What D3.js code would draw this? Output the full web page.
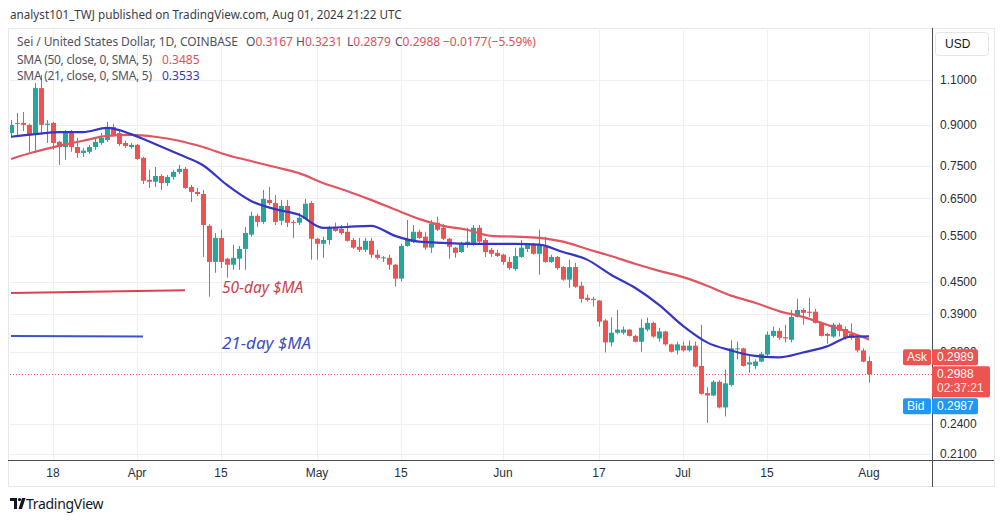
<!DOCTYPE html>
<html><head><meta charset="utf-8">
<script src="https://cdn.jsdelivr.net/npm/d3@7"></script>
<style>
body{margin:0;background:#fff;}
svg{display:block;font-family:"Noto Sans","Liberation Sans",Arial,sans-serif;}
</style>
</head><body>
<svg id="c" width="1003" height="522"></svg>
<script>
// ---------- data ----------
const firstDate = "2024-03-11";
const opens = [0.868,0.905,0.908,0.900,0.868,1.059,0.900,0.908,0.835,0.816,0.868,0.816,0.795,0.799,0.816,0.831,0.842,0.892,0.868,0.831,0.816,0.824,0.778,0.706,0.700,0.718,0.696,0.715,0.731,0.741,0.684,0.669,0.663,0.576,0.491,0.546,0.498,0.485,0.498,0.520,0.554,0.602,0.586,0.646,0.637,0.589,0.629,0.586,0.584,0.594,0.637,0.544,0.532,0.541,0.571,0.568,0.561,0.541,0.525,0.518,0.539,0.507,0.499,0.500,0.485,0.456,0.527,0.537,0.561,0.549,0.523,0.584,0.571,0.544,0.523,0.513,0.530,0.534,0.571,0.541,0.518,0.511,0.507,0.491,0.476,0.502,0.520,0.530,0.509,0.525,0.491,0.502,0.480,0.454,0.480,0.442,0.419,0.417,0.414,0.379,0.344,0.359,0.359,0.364,0.354,0.345,0.364,0.375,0.350,0.361,0.341,0.332,0.339,0.332,0.339,0.310,0.275,0.272,0.289,0.258,0.285,0.334,0.335,0.312,0.310,0.316,0.326,0.354,0.362,0.352,0.348,0.385,0.397,0.394,0.394,0.375,0.357,0.353,0.372,0.365,0.357,0.351,0.332,0.3167];
const highs = [0.920,0.949,0.953,0.905,1.083,1.122,0.920,0.912,0.839,0.880,0.880,0.850,0.813,0.824,0.850,0.868,0.912,0.904,0.876,0.839,0.831,0.827,0.781,0.738,0.747,0.724,0.721,0.738,0.754,0.747,0.690,0.681,0.675,0.580,0.558,0.566,0.500,0.530,0.527,0.573,0.613,0.607,0.675,0.684,0.660,0.646,0.646,0.591,0.610,0.649,0.643,0.546,0.549,0.576,0.584,0.578,0.584,0.546,0.546,0.546,0.546,0.518,0.504,0.507,0.487,0.532,0.591,0.578,0.566,0.561,0.591,0.600,0.581,0.546,0.525,0.537,0.571,0.578,0.578,0.546,0.523,0.518,0.509,0.502,0.523,0.541,0.534,0.534,0.566,0.549,0.507,0.504,0.482,0.496,0.489,0.450,0.425,0.421,0.415,0.381,0.384,0.397,0.369,0.365,0.356,0.381,0.384,0.377,0.367,0.362,0.342,0.345,0.345,0.347,0.345,0.372,0.282,0.291,0.291,0.305,0.347,0.345,0.336,0.324,0.319,0.330,0.361,0.369,0.367,0.372,0.397,0.417,0.400,0.419,0.399,0.377,0.359,0.375,0.375,0.369,0.374,0.353,0.335,0.3231];
const lows = [0.850,0.861,0.876,0.799,0.795,0.861,0.831,0.806,0.754,0.771,0.799,0.778,0.781,0.792,0.806,0.824,0.835,0.854,0.820,0.813,0.810,0.771,0.693,0.681,0.684,0.675,0.687,0.706,0.724,0.678,0.640,0.657,0.502,0.421,0.468,0.478,0.458,0.474,0.474,0.474,0.549,0.573,0.581,0.632,0.578,0.578,0.573,0.546,0.578,0.591,0.496,0.496,0.500,0.530,0.561,0.554,0.537,0.520,0.513,0.513,0.500,0.496,0.491,0.474,0.440,0.450,0.525,0.534,0.544,0.518,0.511,0.563,0.541,0.498,0.500,0.511,0.523,0.527,0.534,0.502,0.502,0.502,0.485,0.474,0.472,0.500,0.513,0.507,0.464,0.489,0.489,0.474,0.452,0.438,0.438,0.410,0.412,0.403,0.369,0.329,0.338,0.357,0.356,0.353,0.344,0.330,0.361,0.351,0.345,0.339,0.329,0.326,0.330,0.330,0.308,0.273,0.241,0.271,0.257,0.248,0.283,0.319,0.309,0.301,0.306,0.315,0.324,0.351,0.348,0.344,0.344,0.384,0.372,0.385,0.374,0.353,0.342,0.351,0.353,0.348,0.348,0.329,0.315,0.2879];
const closes = [0.900,0.908,0.900,0.861,1.059,0.900,0.905,0.831,0.816,0.868,0.816,0.795,0.803,0.816,0.835,0.850,0.888,0.861,0.827,0.820,0.824,0.774,0.703,0.700,0.718,0.696,0.715,0.731,0.741,0.681,0.669,0.663,0.578,0.491,0.546,0.491,0.485,0.500,0.520,0.558,0.602,0.586,0.649,0.637,0.586,0.629,0.584,0.584,0.597,0.635,0.544,0.532,0.541,0.571,0.563,0.558,0.539,0.523,0.518,0.539,0.507,0.500,0.501,0.485,0.456,0.527,0.541,0.561,0.546,0.523,0.581,0.566,0.544,0.525,0.511,0.532,0.537,0.571,0.537,0.513,0.509,0.504,0.491,0.478,0.504,0.523,0.530,0.509,0.530,0.491,0.502,0.478,0.454,0.480,0.440,0.417,0.415,0.415,0.377,0.344,0.359,0.364,0.364,0.354,0.345,0.367,0.375,0.353,0.361,0.341,0.330,0.341,0.332,0.339,0.309,0.274,0.272,0.289,0.258,0.287,0.335,0.335,0.310,0.315,0.316,0.327,0.356,0.362,0.351,0.350,0.385,0.397,0.392,0.392,0.375,0.354,0.354,0.372,0.362,0.351,0.351,0.332,0.316,0.2988];

// moving averages (day offset from firstDate, value)
const smaDays = [0,4,8,12,16,20,24,28,32,36,40,44,48,52,56,60,64,68,72,76,80,84,88,92,96,100,104,108,112,116,120,124,128,132,136,140,143];
const sma50 = [0.774,0.799,0.820,0.839,0.857,0.861,0.854,0.839,0.816,0.788,0.767,0.747,0.727,0.696,0.672,0.646,0.619,0.594,0.576,0.566,0.551,0.549,0.546,0.537,0.520,0.504,0.487,0.472,0.459,0.442,0.423,0.410,0.395,0.385,0.372,0.359,0.3485];
const sma21 = [0.854,0.864,0.872,0.872,0.888,0.864,0.827,0.790,0.753,0.690,0.643,0.620,0.605,0.571,0.573,0.576,0.551,0.537,0.534,0.532,0.532,0.532,0.530,0.513,0.496,0.464,0.438,0.406,0.370,0.344,0.332,0.324,0.322,0.329,0.338,0.353,0.3533];

const priceTicks = [1.1,0.9,0.75,0.65,0.55,0.45,0.39,0.33,0.24,0.21];
const timeTickDates = ["2024-03-18","2024-04-01","2024-04-15","2024-05-01","2024-05-15","2024-06-01","2024-06-17","2024-07-01","2024-07-15","2024-08-01"];
const timeTickLabels = ["18","Apr","15","May","15","Jun","17","Jul","15","Aug"];

// hand-drawn annotation lines: [startDate, endDate, startPrice, endPrice]
const note50 = ["2024-03-11","2024-04-09",0.428,0.433];
const note21 = ["2024-03-11","2024-04-02",0.354,0.353];

const askPrice = 0.2989, bidPrice = 0.2987, countdown = "02:37:21";
const changeAbs = "\u22120.0177", changePct = "(\u22125.59%)";

// ---------- layout ----------
const svg = d3.select("#c");
const plot = {l:10, r:932, t:30, b:460};
const parse = d3.utcParse("%Y-%m-%d");
const day0 = parse(firstDate);
const dates = closes.map((_,i)=>d3.utcDay.offset(day0,i));
const candles = dates.map((d,i)=>({d,o:opens[i],h:highs[i],l:lows[i],c:closes[i]}));

const x = d3.scaleUtc().domain([parse("2024-03-18"), parse("2024-08-01")]).range([53,869]);
const y = d3.scaleLog().domain([0.21,1.1]).range([454,79.5]);

const UP="#26a69a", DN="#ef5350";

// frame
svg.append("rect").attr("x",8.5).attr("y",28.5).attr("width",986).attr("height",458).attr("fill","none").attr("stroke","#e6e8ee");

// grid
const grid = svg.append("g");
grid.selectAll("line.h").data(priceTicks).join("line")
  .attr("x1",plot.l).attr("x2",plot.r).attr("y1",d=>Math.round(y(d))+0.5).attr("y2",d=>Math.round(y(d))+0.5)
  .attr("stroke","#eef0f5");
grid.selectAll("line.v").data(timeTickDates).join("line")
  .attr("x1",d=>Math.round(x(parse(d)))+0.5).attr("x2",d=>Math.round(x(parse(d)))+0.5)
  .attr("y1",plot.t).attr("y2",plot.b).attr("stroke","#eef0f5");

svg.append("clipPath").attr("id","pc").append("rect")
  .attr("x",plot.l).attr("y",plot.t).attr("width",plot.r-plot.l).attr("height",plot.b-plot.t);
const g = svg.append("g").attr("clip-path","url(#pc)");

// candles
const cg = g.append("g");
cg.selectAll("line").data(candles).join("line")
  .attr("x1",d=>Math.round(x(d.d))+0.5).attr("x2",d=>Math.round(x(d.d))+0.5)
  .attr("y1",d=>y(d.h)).attr("y2",d=>y(d.l))
  .attr("stroke",d=>d.c>=d.o?UP:DN).attr("stroke-width",1);
cg.selectAll("rect").data(candles).join("rect")
  .attr("x",d=>Math.round(x(d.d))-2).attr("width",5)
  .attr("y",d=>y(Math.max(d.o,d.c)))
  .attr("height",d=>Math.max(1,y(Math.min(d.o,d.c))-y(Math.max(d.o,d.c))))
  .attr("fill",d=>d.c>=d.o?UP:DN);

// SMA lines
const smaLine = d3.line().x(d=>x(d[0])).y(d=>y(d[1])).curve(d3.curveMonotoneX);
const s50 = smaDays.map((k,i)=>[d3.utcDay.offset(day0,k), sma50[i]]);
const s21 = smaDays.map((k,i)=>[d3.utcDay.offset(day0,k), sma21[i]]);
g.append("path").attr("d",smaLine(s50)).attr("fill","none").attr("stroke","#e15560").attr("stroke-width",2.2);
g.append("path").attr("d",smaLine(s21)).attr("fill","none").attr("stroke","#3535c8").attr("stroke-width",2.2);

// annotations
g.append("line").attr("x1",x(parse(note50[0]))).attr("x2",x(parse(note50[1])))
  .attr("y1",y(note50[2])).attr("y2",y(note50[3])).attr("stroke","#d9434f").attr("stroke-width",2);
g.append("line").attr("x1",x(parse(note21[0]))).attr("x2",x(parse(note21[1])))
  .attr("y1",y(note21[2])).attr("y2",y(note21[3])).attr("stroke","#3a55c8").attr("stroke-width",2);
svg.append("text").attr("x",222).attr("y",288).attr("dy","0.35em")
  .attr("font-style","italic").attr("font-size",15.5).attr("fill","#c9424f").text("50-day $MA");
svg.append("text").attr("x",222).attr("y",343).attr("dy","0.35em")
  .attr("font-style","italic").attr("font-size",17).attr("fill","#3b4fc2").text("21-day $MA");

// current price dotted line
const last = candles[candles.length-1];
svg.append("line").attr("x1",plot.l).attr("x2",plot.r).attr("y1",Math.round(y(last.c))+0.5).attr("y2",Math.round(y(last.c))+0.5)
  .attr("stroke",DN).attr("stroke-dasharray","1,2");

// axes lines
svg.append("line").attr("x1",plot.r+0.5).attr("x2",plot.r+0.5).attr("y1",28).attr("y2",487).attr("stroke","#4a4d57");
svg.append("line").attr("x1",8).attr("x2",994).attr("y1",plot.b+0.5).attr("y2",plot.b+0.5).attr("stroke","#4a4d57");

// price axis labels
const axisFont = "'Liberation Sans', Arial, sans-serif";
svg.append("g").selectAll("text").data(priceTicks).join("text")
  .attr("x",940).attr("y",d=>y(d)).attr("dy","0.35em")
  .attr("font-family",axisFont).attr("font-size",12).attr("fill","#2a2e39")
  .text(d=>d3.format(".4f")(d));

// time axis labels
svg.append("g").selectAll("text").data(timeTickDates).join("text")
  .attr("x",d=>x(parse(d))).attr("y",473).attr("dy","0.35em").attr("text-anchor","middle")
  .attr("font-family",axisFont).attr("font-size",12).attr("fill","#2a2e39")
  .text((d,i)=>timeTickLabels[i]);

// USD box
svg.append("rect").attr("x",935.5).attr("y",32.5).attr("width",53).attr("height",23).attr("rx",3)
  .attr("fill","#fff").attr("stroke","#e3e5ea");
svg.append("text").attr("x",945).attr("y",44).attr("dy","0.35em").attr("font-family",axisFont)
  .attr("font-size",12).attr("fill","#131722").text("USD");

// price labels on axis
const yc = y(last.c);
const fmt4 = d3.format(".4f");
function tag(xl, yt, w, h, fill){ svg.append("rect").attr("x",xl).attr("y",yt).attr("width",w).attr("height",h).attr("rx",2).attr("fill",fill); }
// Ask
tag(903, yc-25, 28, 16, DN);
svg.append("text").attr("x",907).attr("y",yc-17).attr("dy","0.35em").attr("font-family",axisFont).attr("font-size",12).attr("fill","#fff").text("Ask");
tag(932, yc-25, 46, 16, DN);
svg.append("text").attr("x",937).attr("y",yc-17).attr("dy","0.35em").attr("font-family",axisFont).attr("font-size",12).attr("fill","#fff").text(fmt4(askPrice));
// current
tag(932, yc-8, 58, 31, DN);
svg.append("text").attr("x",937).attr("y",yc).attr("dy","0.35em").attr("font-family",axisFont).attr("font-size",12).attr("fill","#fff").text(fmt4(last.c));
svg.append("text").attr("x",937).attr("y",yc+14).attr("dy","0.35em").attr("font-family",axisFont).attr("font-size",12).attr("fill","#fde8e8").text(countdown);
// Bid
tag(903, yc+24, 28, 16, "#2196f3");
svg.append("text").attr("x",907).attr("y",yc+32).attr("dy","0.35em").attr("font-family",axisFont).attr("font-size",12).attr("fill","#fff").text("Bid");
tag(932, yc+24, 46, 16, "#2196f3");
svg.append("text").attr("x",937).attr("y",yc+32).attr("dy","0.35em").attr("font-family",axisFont).attr("font-size",12).attr("fill","#fff").text(fmt4(bidPrice));

// header
svg.append("text").attr("x",10).attr("y",15).attr("dy","0.35em").attr("font-size",11.7).attr("fill","#3a3d45")
  .text("analyst101_TWJ published on TradingView.com, Aug 01, 2024 21:22 UTC");

// legend
const legRed = "#e0505b", legGray="#50535e";
const l1 = svg.append("text").attr("y",42).attr("dy","0.35em").attr("font-size",12).attr("fill",legGray);
l1.append("tspan").attr("x",17).attr("textLength",221).attr("lengthAdjust","spacing").text("Sei / United States Dollar, 1D, COINBASE");
const ohlcX = [246,296,347,395];
[["O",last.o],["H",last.h],["L",last.l],["C",last.c]].forEach(([k,v],i)=>{
  l1.append("tspan").attr("x",ohlcX[i]).attr("fill",legGray).text(k);
  l1.append("tspan").attr("fill",legRed).text(fmt4(v));
});
l1.append("tspan").attr("x",443).attr("fill",legRed).text(changeAbs);
l1.append("tspan").attr("x",488).attr("fill",legRed).text(changePct);

const l2 = svg.append("text").attr("y",60).attr("dy","0.35em").attr("font-size",12).attr("fill",legGray);
l2.append("tspan").attr("x",17).attr("textLength",135).attr("lengthAdjust","spacing").text("SMA (50, close, 0, SMA, 5)");
l2.append("tspan").attr("x",162).attr("fill",legRed).text(fmt4(sma50[sma50.length-1]));
const l3 = svg.append("text").attr("y",76).attr("dy","0.35em").attr("font-size",12).attr("fill",legGray);
l3.append("tspan").attr("x",17).attr("textLength",135).attr("lengthAdjust","spacing").text("SMA (21, close, 0, SMA, 5)");
l3.append("tspan").attr("x",162).attr("fill","#3535c8").text(fmt4(sma21[sma21.length-1]));

// TradingView footer
const lg = svg.append("g").attr("transform","translate(10,498)");
lg.append("path").attr("d","M0 0H7V11H4V3H0Z").attr("fill","#131722");
lg.append("circle").attr("cx",9.5).attr("cy",1.6).attr("r",1.6).attr("fill","#131722");
lg.append("path").attr("d","M8.5 11L12 0H15.5L12 11Z").attr("fill","#131722");
svg.append("text").attr("x",26).attr("y",504).attr("dy","0.35em").attr("font-size",14).attr("fill","#131722")
  .attr("letter-spacing","-0.3").text("TradingView");
</script>
</body></html>
